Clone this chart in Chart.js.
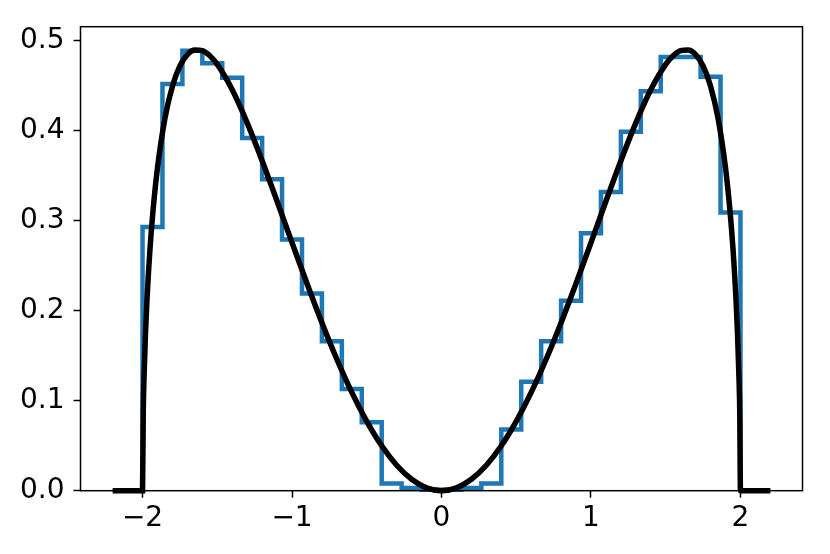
<!DOCTYPE html>
<html>
<head>
<meta charset="utf-8">
<script src="https://cdn.jsdelivr.net/npm/chart.js@4.4.1/dist/chart.umd.min.js"></script>
<style>
  html, body { margin: 0; padding: 0; background: #ffffff; }
  #wrap { width: 830px; height: 554px; }
</style>
</head>
<body>
<div id="wrap"><canvas id="c" width="830" height="554"></canvas></div>
<script>
// Histogram bin edges (31) and step heights (30)
const binEdges = [-2.0, -1.8667, -1.7333, -1.6, -1.4667, -1.3333, -1.2, -1.0667, -0.9333, -0.8,
  -0.6667, -0.5333, -0.4, -0.2667, -0.1333, 0, 0.1333, 0.2667, 0.4, 0.5333,
  0.6667, 0.8, 0.9333, 1.0667, 1.2, 1.3333, 1.4667, 1.6, 1.7333, 1.8667, 2.0];
const binHeights = [0.293, 0.452, 0.489, 0.475, 0.459, 0.392, 0.346, 0.279, 0.219, 0.166,
  0.113, 0.076, 0.008, 0.003, 0.001, 0.001, 0.003, 0.008, 0.068, 0.121,
  0.166, 0.211, 0.286, 0.332, 0.399, 0.444, 0.482, 0.482, 0.460, 0.309];

const curveX = [-2.2, -2.1, -2.0, -1.995, -1.99, -1.98, -1.97, -1.95, -1.93, -1.9, -1.85, -1.8,
  -1.75, -1.7, -1.65, -1.6, -1.55, -1.5, -1.4, -1.3, -1.2, -1.1, -1.0, -0.9, -0.8, -0.7,
  -0.6, -0.5, -0.4, -0.3, -0.2, -0.1, 0,
  0.1, 0.2, 0.3, 0.4, 0.5, 0.6, 0.7, 0.8, 0.9, 1.0, 1.1, 1.2, 1.3, 1.4, 1.5, 1.55, 1.6,
  1.65, 1.7, 1.75, 1.8, 1.85, 1.9, 1.93, 1.95, 1.97, 1.98, 1.99, 1.995, 2.0, 2.1, 2.2];
const curveY = [0, 0, 0, 0.0895, 0.1259, 0.1760, 0.2132, 0.2690, 0.3109, 0.3588, 0.4139, 0.4495,
  0.4719, 0.4846, 0.4897, 0.4889, 0.4833, 0.4737, 0.4455, 0.4088, 0.3667, 0.3217, 0.2757, 0.2303, 0.1867, 0.1461,
  0.1093, 0.0771, 0.0499, 0.0283, 0.0127, 0.0032, 0,
  0.0032, 0.0127, 0.0283, 0.0499, 0.0771, 0.1093, 0.1461, 0.1867, 0.2303, 0.2757, 0.3217, 0.3667, 0.4088, 0.4455, 0.4737, 0.4833, 0.4889,
  0.4897, 0.4846, 0.4719, 0.4495, 0.4139, 0.3588, 0.3109, 0.2690, 0.2132, 0.1760, 0.1259, 0.0895, 0, 0, 0];

// Tick values and labels
const xTicks = [-2, -1, 0, 1, 2];
const xTickLabels = ['\u22122', '\u22121', '0', '1', '2'];
const yTicks = [0, 0.1, 0.2, 0.3, 0.4, 0.5];
const yTickLabels = ['0.0', '0.1', '0.2', '0.3', '0.4', '0.5'];

// Build step outline points: start at zero on the left edge, end at zero on the right edge
const histPoints = [{ x: binEdges[0], y: 0 }];
for (let i = 0; i < binHeights.length; i++) {
  histPoints.push({ x: binEdges[i], y: binHeights[i] });
}
histPoints.push({ x: binEdges[binEdges.length - 1], y: 0 });

const curvePoints = curveX.map((x, i) => ({ x: x, y: curveY[i] }));

const FONT = { family: 'DejaVu Sans', size: 28 };

const frame = {
  id: 'frame',
  afterDraw(chart) {
    const a = chart.chartArea;
    const ctx = chart.ctx;
    ctx.save();
    ctx.strokeStyle = '#000000';
    ctx.lineWidth = 1.5;
    ctx.strokeRect(a.left, a.top, a.right - a.left, a.bottom - a.top);
    ctx.restore();
  }
};

new Chart(document.getElementById('c'), {
  type: 'line',
  data: {
    datasets: [
      {
        label: 'curve',
        data: curvePoints,
        borderColor: '#000000',
        borderWidth: 5.5,
        pointRadius: 0,
        fill: false,
        cubicInterpolationMode: 'monotone',
        clip: false,
        order: 0
      },
      {
        label: 'hist',
        data: histPoints,
        borderColor: '#1f77b4',
        borderWidth: 4.5,
        pointRadius: 0,
        fill: false,
        stepped: 'before',
        borderJoinStyle: 'miter',
        clip: false,
        order: 1
      }
    ]
  },
  options: {
    responsive: false,
    animation: false,
    devicePixelRatio: 1,
    layout: { padding: { top: 26.7, right: 27.5, left: 0, bottom: 0 } },
    plugins: { legend: { display: false }, tooltip: { enabled: false } },
    scales: {
      x: {
        type: 'linear',
        min: -2.415,
        max: 2.415,
        afterBuildTicks: (s) => { s.ticks = xTicks.map(v => ({ value: v })); },
        afterFit: (s) => { s.height = 63.3; },
        ticks: {
          callback: (v) => { const i = xTicks.indexOf(v); return i >= 0 ? xTickLabels[i] : ''; },
          color: '#000000',
          font: FONT,
          padding: 4,
          maxRotation: 0,
          autoSkip: false
        },
        grid: { display: true, drawOnChartArea: false, drawTicks: true, tickLength: 7, tickWidth: 1.5, tickColor: '#000000' },
        border: { display: false }
      },
      y: {
        type: 'linear',
        min: 0,
        max: 0.5156,
        afterBuildTicks: (s) => { s.ticks = yTicks.map(v => ({ value: v })); },
        afterFit: (s) => { s.width = 80.5; },
        ticks: {
          callback: (v) => { const i = yTicks.findIndex(t => Math.abs(t - v) < 1e-9); return i >= 0 ? yTickLabels[i] : ''; },
          color: '#000000',
          font: FONT,
          padding: 9,
          autoSkip: false
        },
        grid: { display: true, drawOnChartArea: false, drawTicks: true, tickLength: 7, tickWidth: 1.5, tickColor: '#000000' },
        border: { display: false }
      }
    }
  },
  plugins: [frame]
});
</script>
</body>
</html>
